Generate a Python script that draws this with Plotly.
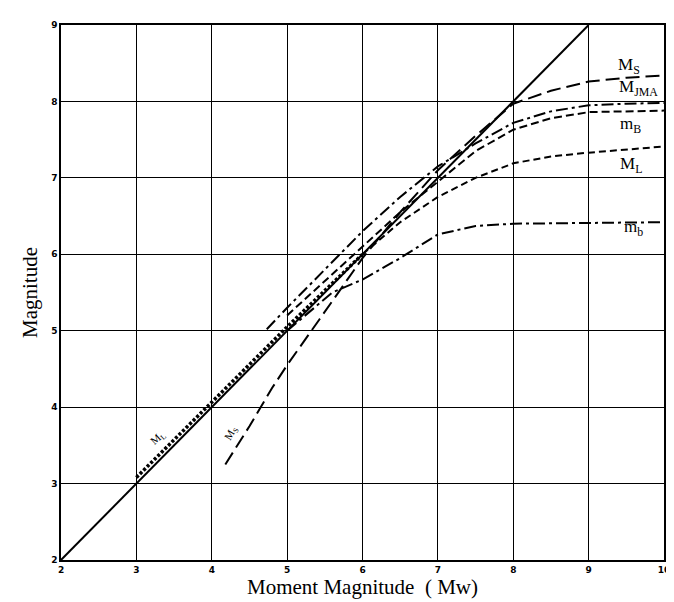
import plotly.graph_objects as go

# 1:1 reference line
mw_x = [2, 9]
mw_y = [2, 9]

# magnitude scales vs moment magnitude
ms_x = [4.18, 4.5, 4.8, 5.0, 5.43, 6.0, 6.5, 7.0, 7.5, 8.0, 8.5, 9.0, 9.5, 10.0]
ms_y = [3.25, 3.75, 4.25, 4.55, 5.15, 5.95, 6.55, 7.1, 7.55, 7.97, 8.14, 8.26, 8.31, 8.34]

jma_x = [4.73, 5.0, 5.5, 6.0, 6.5, 7.0, 7.5, 8.0, 8.5, 9.0, 9.5, 10.0]
jma_y = [5.02, 5.3, 5.8, 6.3, 6.75, 7.15, 7.45, 7.72, 7.87, 7.95, 7.97, 7.98]

mB_x = [5.0, 5.5, 6.0, 6.5, 7.0, 7.5, 8.0, 8.5, 9.0, 9.5, 10.0]
mB_y = [5.2, 5.65, 6.1, 6.55, 6.95, 7.35, 7.63, 7.78, 7.86, 7.87, 7.88]

ml_x = [3.0, 4.0, 5.0, 6.0, 6.5, 7.0, 7.5, 8.0, 8.5, 9.0, 9.5, 10.0]
ml_y = [3.08, 4.06, 5.05, 6.0, 6.42, 6.75, 7.0, 7.19, 7.28, 7.33, 7.37, 7.41]

mb_x = [5.0, 5.3, 5.6, 6.0, 6.5, 7.0, 7.5, 8.0, 9.0, 10.0]
mb_y = [5.0, 5.25, 5.5, 5.67, 5.95, 6.26, 6.37, 6.4, 6.41, 6.42]

ticks = [2, 3, 4, 5, 6, 7, 8, 9, 10]

fig = go.Figure()
fig.add_trace(go.Scatter(x=mw_x, y=mw_y, mode="lines", name="Mw",
                         line=dict(color="black", width=2)))
fig.add_trace(go.Scatter(x=ml_x[:4], y=ml_y[:4], mode="lines", name="ML",
                         line=dict(color="black", width=3.5, dash="3px,2px")))
fig.add_trace(go.Scatter(x=ml_x[3:], y=ml_y[3:], mode="lines", name="ML",
                         line=dict(color="black", width=2, dash="7px,4px")))
fig.add_trace(go.Scatter(x=ms_x, y=ms_y, mode="lines", name="Ms",
                         line=dict(color="black", width=2, dash="14px,6px")))
fig.add_trace(go.Scatter(x=jma_x, y=jma_y, mode="lines", name="MJMA",
                         line=dict(color="black", width=2, dash="12px,4px,3px,4px")))
fig.add_trace(go.Scatter(x=mB_x, y=mB_y, mode="lines", name="mB",
                         line=dict(color="black", width=2, dash="8px,4px")))
fig.add_trace(go.Scatter(x=mb_x, y=mb_y, mode="lines", name="mb",
                         line=dict(color="black", width=2, dash="12px,4px,3px,4px")))

serif = "Liberation Serif"
labels = [
    ("M<sub>S</sub>", 9.53, 8.47),
    ("M<sub>JMA</sub>", 9.66, 8.17),
    ("m<sub>B</sub>", 9.56, 7.69),
    ("M<sub>L</sub>", 9.56, 7.17),
    ("m<sub>b</sub>", 9.6, 6.35),
]
for txt, x, y in labels:
    fig.add_annotation(x=x, y=y, text=txt, showarrow=False,
                       font=dict(family=serif, size=17, color="black"))

fig.add_annotation(x=3.29, y=3.59, text="M<sub>L</sub>", showarrow=False, textangle=-42,
                   font=dict(family=serif, size=11, color="black"))
fig.add_annotation(x=4.26, y=3.66, text="M<sub>S</sub>", showarrow=False, textangle=-60,
                   font=dict(family=serif, size=11, color="black"))

axis_common = dict(
    tickmode="array", showgrid=True, gridcolor="black", gridwidth=1,
    showline=True, linecolor="black", linewidth=1.5, mirror=True,
    zeroline=False, ticks="",
    tickfont=dict(family="DejaVu Sans", size=9, color="black", weight="bold"),
)

fig.update_layout(
    width=674, height=602,
    margin=dict(l=53, r=14, t=14, b=50),
    paper_bgcolor="white", plot_bgcolor="white",
    showlegend=False,
    xaxis=dict(range=[2, 10], tickvals=ticks,
               title=dict(text="Moment Magnitude  ( Mw)", standoff=6,
                          font=dict(family=serif, size=21, color="black")),
               **axis_common),
    yaxis=dict(range=[2, 9], tickvals=ticks[:-1],
               title=dict(text="Magnitude", standoff=8,
                          font=dict(family=serif, size=21, color="black")),
               **axis_common),
)

fig.write_html("out.html")
